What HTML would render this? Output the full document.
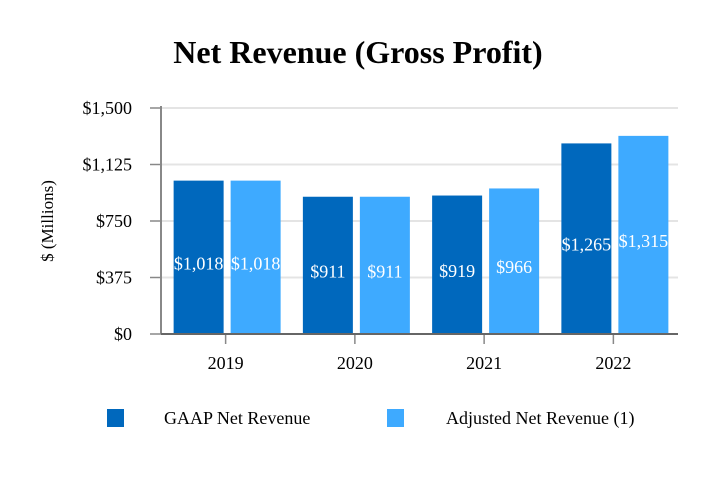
<!DOCTYPE html>
<html><head><meta charset="utf-8"><style>
body{margin:0;background:#fff;}
svg{display:block;font-family:"Liberation Serif",serif;}
</style></head><body>
<svg id="c" width="718" height="480">
<text x="358" y="63" text-anchor="middle" font-size="32" font-weight="bold">Net Revenue (Gross Profit)</text>
<text transform="translate(53,221) rotate(-90)" text-anchor="middle" font-size="17">$ (Millions)</text>
<g id="plot"></g>
<rect x="107" y="409" width="17" height="18" fill="#0068bd"/>
<text x="164" y="424" font-size="18">GAAP Net Revenue</text>
<rect x="387" y="409" width="17" height="18" fill="#3eaaff"/>
<text x="446" y="424" font-size="18">Adjusted Net Revenue (1)</text>
</svg>
<script>
const categories=["2019","2020","2021","2022"];
const gaap=[1018,911,919,1265];
const adjusted=[1018,911,966,1315];
const yTicks=[0,375,750,1125,1500];
const yTickLabels=["$0","$375","$750","$1,125","$1,500"];
const gaapLabels=["$1,018","$911","$919","$1,265"];
const adjLabels=["$1,018","$911","$966","$1,315"];
const NS="http://www.w3.org/2000/svg";
const g=document.getElementById('plot');
const L=161,R=678,T=108,B=334;
const y=v=>B-(v/1500)*(B-T);
const band=(R-L)/categories.length;
const x=i=>L+band*i;
function mk(t,a){const e=document.createElementNS(NS,t);for(const k in a)e.setAttribute(k,a[k]);g.appendChild(e);return e;}
yTicks.forEach((v,i)=>{
 const gl=mk('line',{x1:L,x2:R,y1:y(v),y2:y(v),stroke:'#e4e4e4','stroke-width':2});
 
 
 const tk=mk('line',{x1:150,x2:L,y1:y(v),y2:y(v),stroke:'#888','stroke-width':1.5});
 
 
 const t=mk('text',{x:132,y:y(v)+6,'text-anchor':'end','font-size':18});
 t.textContent=yTickLabels[i];
 
 
});
categories.forEach((c,i)=>{
 const cx=x(i)+band/2;
 [[gaap,'#0068bd',-52,gaapLabels,'gaap'],[adjusted,'#3eaaff',5,adjLabels,'adjusted']].forEach(([arr,col,off,labs,nm])=>{
  const v=arr[i];
  const r=mk('rect',{x:cx+off,y:y(v),width:50,height:B-y(v),fill:col});
  
  
  const t=mk('text',{x:cx+off+25,y:(y(v)+B)/2+12,'text-anchor':'middle','font-size':18,fill:'#fff'});
  t.textContent=labs[i];
  
  
 });
 const tk=mk('line',{x1:cx,x2:cx,y1:B,y2:B+10,stroke:'#888','stroke-width':1.5});
 
 
 const t=mk('text',{x:cx,y:B+35,'text-anchor':'middle','font-size':18});
 t.textContent=c;
 
 
});
const ya=mk('line',{x1:L,x2:L,y1:T-2,y2:B,stroke:'#888','stroke-width':2});


const xa=mk('line',{x1:L,x2:R,y1:B,y2:B,stroke:'#666','stroke-width':2});


</script>
</body></html>
